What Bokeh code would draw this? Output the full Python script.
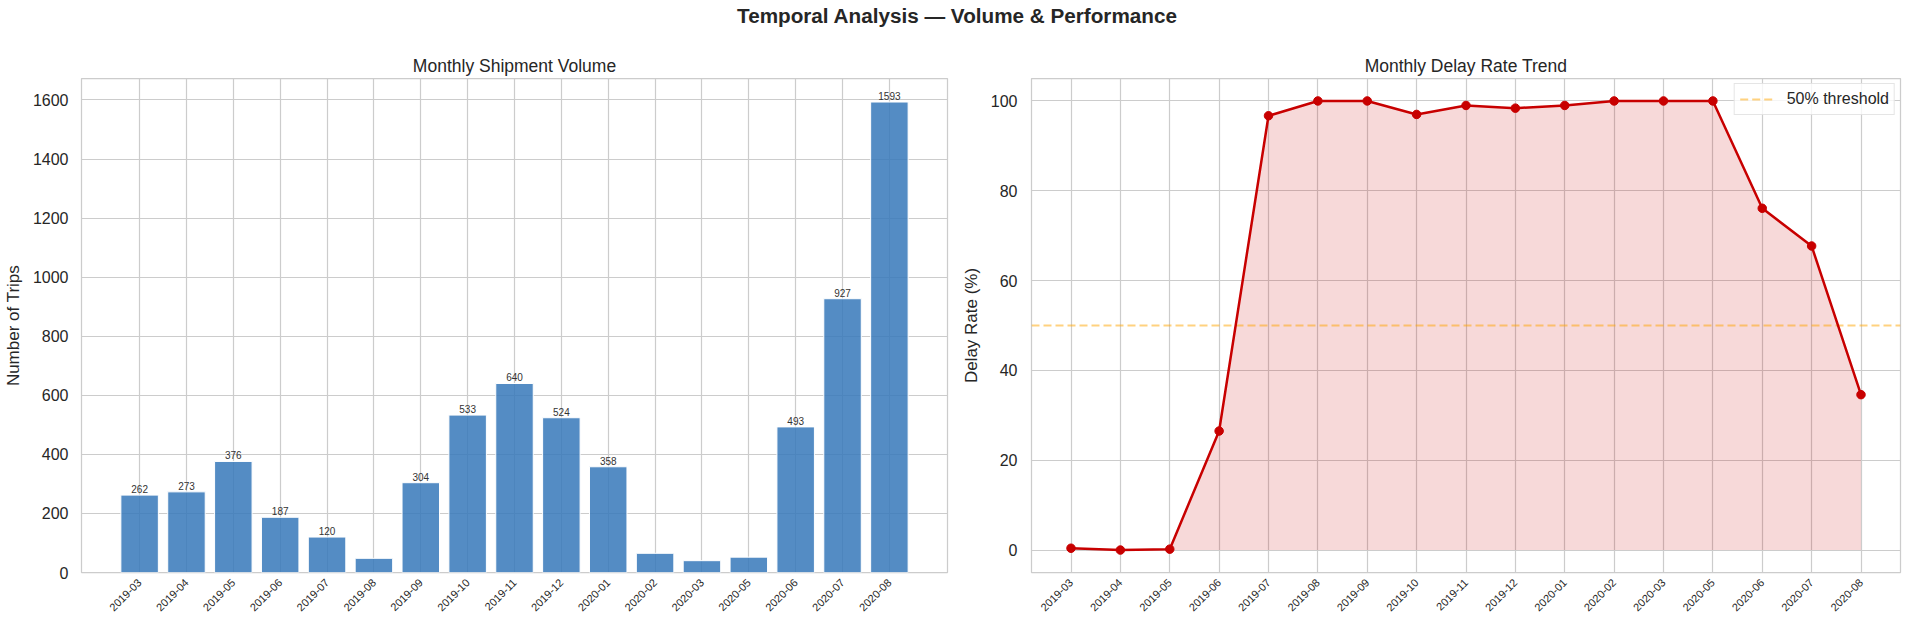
import math
from bokeh.plotting import figure
from bokeh.models import Range1d, FactorRange, FixedTicker, Div
from bokeh.layouts import column, row
from bokeh.embed import file_html
from bokeh.resources import INLINE
from bokeh.core.properties import value

# ---------------- data ----------------
months = ["2019-03", "2019-04", "2019-05", "2019-06", "2019-07", "2019-08",
          "2019-09", "2019-10", "2019-11", "2019-12", "2020-01", "2020-02",
          "2020-03", "2020-05", "2020-06", "2020-07", "2020-08"]
trips = [262, 273, 376, 187, 120, 48, 304, 533, 640, 524, 358, 65, 40, 52, 493, 927, 1593]
delay_rate = [0.4, 0.0, 0.2, 26.5, 96.7, 100.0, 100.0, 97.0, 99.0, 98.4, 99.0,
              100.0, 100.0, 100.0, 76.1, 67.7, 34.6]
threshold = 50
trip_ticks = [0, 200, 400, 600, 800, 1000, 1200, 1400, 1600]
rate_ticks = [0, 20, 40, 60, 80, 100]
label_min = 100

FONT = "Liberation Sans"
TEXT = "#262626"
GRID = "#cccccc"
BAR = "#3678BA"
RED = "#c80000"


def style(p):
    p.outline_line_color = GRID
    p.outline_line_width = 1.25
    p.background_fill_color = "white"
    p.border_fill_color = "white"
    p.title.text_font = FONT
    p.title.text_font_size = "17.5px"
    p.title.text_font_style = "normal"
    p.title.text_color = TEXT
    p.title.align = "center"
    p.title.standoff = 5
    for g in (p.xgrid, p.ygrid):
        g.grid_line_color = GRID
        g.grid_line_width = 1.2
    for ax in p.axis:
        ax.axis_line_color = None
        ax.major_tick_line_color = None
        ax.minor_tick_line_color = None
        ax.major_tick_out = 0
        ax.major_tick_in = 0
        ax.major_label_text_font = FONT
        ax.major_label_text_color = TEXT
        ax.axis_label_text_font = FONT
        ax.axis_label_text_font_size = "17px"
        ax.axis_label_text_font_style = "normal"
        ax.axis_label_text_color = TEXT
    p.xaxis.major_label_text_font_size = "11px"
    p.xaxis.major_label_orientation = math.pi / 4
    p.xaxis.major_label_standoff = 8
    p.yaxis.major_label_text_font_size = "16px"
    p.yaxis.major_label_standoff = 13
    p.yaxis.axis_label_standoff = 7


# ---------------- left: volume ----------------
p1 = figure(width=957, height=588, output_backend="svg", toolbar_location=None,
            title="Monthly Shipment Volume",
            x_range=FactorRange(factors=months, range_padding=1.48 / 17,
                                range_padding_units="percent"),
            y_range=Range1d(0, max(trips) * 1.05),
            min_border_left=76, min_border_right=10, min_border_top=38,
            min_border_bottom=56)
p1.vbar(x=months, top=trips, width=0.8, fill_color=BAR, fill_alpha=0.85,
        line_color="white", line_width=1)
lab_x = [m for m, v in zip(months, trips) if v > label_min]
lab_y = [v for v in trips if v > label_min]
lab_t = [str(v) for v in lab_y]
p1.text(x=lab_x, y=lab_y, text=lab_t, text_font=value(FONT), text_font_size="10px",
        text_color="#333333", text_align="center", text_baseline="bottom", y_offset=-2)
style(p1)
p1.yaxis.ticker = FixedTicker(ticks=trip_ticks)
p1.yaxis.axis_label = "Number of Trips"

# ---------------- right: delay rate ----------------
p2 = figure(width=947, height=588, output_backend="svg", toolbar_location=None,
            title="Monthly Delay Rate Trend",
            x_range=FactorRange(factors=months, range_padding=0.6 / 17,
                                range_padding_units="percent"),
            y_range=Range1d(-5, 105),
            min_border_left=74, min_border_right=4, min_border_top=38,
            min_border_bottom=56)
p2.varea(x=months, y1=[0] * len(months), y2=delay_rate, fill_color=RED, fill_alpha=0.15)
p2.hspan(y=[threshold], line_color="orange", line_alpha=0.5, line_dash="8 4",
         line_width=1.8, legend_label="50% threshold")
p2.line(x=months, y=delay_rate, line_color=RED, line_width=2.5)
p2.scatter(x=months, y=delay_rate, size=8.5, fill_color=RED, line_color=RED)
style(p2)
p2.yaxis.ticker = FixedTicker(ticks=rate_ticks)
p2.yaxis.axis_label = "Delay Rate (%)"
p2.yaxis.major_label_standoff = 14
p2.legend.location = "top_right"
p2.legend.label_text_font = FONT
p2.legend.label_text_font_size = "16px"
p2.legend.label_text_color = TEXT
p2.legend.border_line_color = GRID
p2.legend.background_fill_alpha = 0.8
p2.legend.margin = 5
p2.legend.padding = 5
p2.legend.glyph_width = 35
p2.legend.label_standoff = 12

title = Div(text="Temporal Analysis — Volume &amp; Performance", width=1904, height=30,
            styles={"text-align": "center", "font-size": "20.7px", "font-weight": "bold",
                    "font-family": FONT, "color": TEXT, "line-height": "21px"})

layout = column(title, row(p1, p2))
open("out.html", "w").write(file_html(layout, INLINE))
